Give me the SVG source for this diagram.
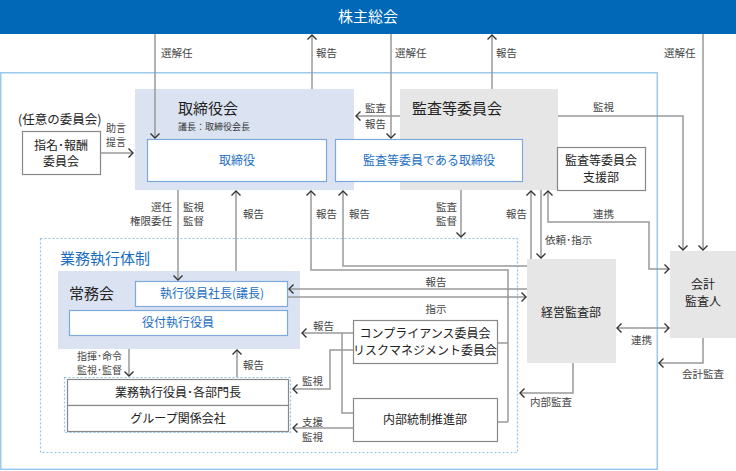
<svg xmlns="http://www.w3.org/2000/svg" width="736" height="471" viewBox="0 0 736 471">
<defs>
<marker id="ah" viewBox="0 0 10 10" refX="8.5" refY="5" markerWidth="10" markerHeight="10" markerUnits="userSpaceOnUse" orient="auto-start-reverse">
<path d="M4,0.5 L8.5,5 L4,9.5" fill="none" stroke="#333" stroke-width="1.4"/>
</marker>
</defs>
<style>
text{font-family:"Noto Sans CJK JP","Noto Sans",sans-serif;fill:#333}
.lbl{font-size:10.5px;fill:#444}
.sm{font-size:10px;fill:#444}
.h{font-size:15px;fill:#222}
.bt{font-size:12px;fill:#222}
.blue{font-size:12px;fill:#1b6ec2}
.c{text-anchor:middle}
.e{text-anchor:end}
.ln{fill:none;stroke:#999;stroke-width:1.5}
.ar{marker-end:url(#ah)}
.da{marker-start:url(#ah);marker-end:url(#ah)}
.wb{fill:#fff;stroke:#7ea9dc;stroke-width:1.2}
.gb{fill:#fff;stroke:#888;stroke-width:1.2}
.lb{fill:#dbe2f1}
.gr{fill:#e6e6e6}
.dot{fill:none;stroke:#8ec4ec;stroke-width:1.2;stroke-dasharray:2 2}
</style>

<g id="shareholders">
<rect x="0" y="0" width="736" height="34" fill="#0068b7"/>
<text x="368" y="22" class="c" style="font-size:15px;fill:#fff">株主総会</text>
</g>

<rect id="company" x="0.75" y="72.75" width="656.5" height="396.5" fill="none" stroke="#9ccaea" stroke-width="1.5"/>
<rect id="exec-frame" x="40.5" y="238.5" width="477" height="214" class="dot"/>
<text x="60" y="264" style="font-size:15px;fill:#1b6ec2">業務執行体制</text>

<g id="board">
<rect x="135" y="89" width="219" height="101" class="lb"/>
<text x="178" y="114" class="h">取締役会</text>
<text x="178" y="130" style="font-size:9px;fill:#333">議長：取締役会長</text>
</g>

<g id="audit-committee">
<rect x="400" y="89" width="158" height="101" class="gr"/>
<text x="412" y="114" class="h">監査等委員会</text>
</g>

<g id="directors">
<rect x="147.5" y="139.5" width="179" height="42" class="wb"/>
<text x="237" y="165" class="blue c">取締役</text>
</g>

<g id="audit-directors">
<rect x="335.5" y="139.5" width="187" height="42" class="wb"/>
<text x="429" y="165" class="blue c">監査等委員である取締役</text>
</g>

<g id="audit-support">
<rect x="557.5" y="147.5" width="88" height="43" class="gb"/>
<text x="601" y="165" class="bt c">監査等委員会</text>
<text x="601" y="182" class="bt c">支援部</text>
</g>

<g id="nomination">
<text x="18" y="124" style="font-size:12.5px;fill:#222">(任意の委員会)</text>
<rect x="22.5" y="131.5" width="78" height="43" class="gb"/>
<text x="61" y="150" class="bt c">指名･報酬</text>
<text x="61" y="166" class="bt c">委員会</text>
</g>

<g id="executive-committee">
<rect x="58" y="271" width="242" height="78" class="lb"/>
<text x="69" y="299" class="h">常務会</text>
</g>

<g id="president">
<rect x="135.5" y="281.5" width="152" height="25" class="wb"/>
<text x="212" y="298" class="blue c">執行役員社長(議長)</text>
</g>

<g id="senior-officers">
<rect x="69.5" y="310.5" width="218" height="25" class="wb"/>
<text x="178" y="327" class="blue c">役付執行役員</text>
</g>

<g id="business-units">
<rect x="64.5" y="377.5" width="226" height="55" class="dot"/>
<rect x="67.5" y="379.5" width="221" height="26" class="gb"/>
<rect x="67.5" y="405.5" width="221" height="26" class="gb"/>
<text x="178" y="397" class="bt c">業務執行役員･各部門長</text>
<text x="178" y="423" class="bt c">グループ関係会社</text>
</g>

<g id="compliance">
<rect x="353.5" y="320.5" width="144" height="43" class="gb"/>
<text x="425" y="338" class="bt c">コンプライアンス委員会</text>
<text x="425" y="355" class="bt c">リスクマネジメント委員会</text>
</g>

<g id="internal-control">
<rect x="353.5" y="398.5" width="144" height="43" class="gb"/>
<text x="425" y="424" class="bt c">内部統制推進部</text>
</g>

<g id="mgmt-audit">
<rect x="527" y="259" width="89" height="104" class="gr"/>
<text x="571" y="317" class="bt c">経営監査部</text>
</g>

<g id="accounting-auditor">
<rect x="670" y="251" width="66" height="87" class="gr"/>
<text x="703" y="289" class="bt c">会計</text>
<text x="703" y="306" class="bt c">監査人</text>
</g>

<g id="connectors">
<path class="ln ar" d="M155,34 V138"/>
<path class="ln ar" d="M312,89 V35"/>
<path class="ln ar" d="M391,34 V138"/>
<path class="ln ar" d="M492,89 V35"/>
<path class="ln ar" d="M703,34 V250"/>
<path class="ln ar" d="M558,116 H683 V250"/>
<path class="ln ar" d="M400,116 H356"/>
<path class="ln ar" d="M101,153 H133"/>
<path class="ln ar" d="M178,190 V280"/>
<path class="ln ar" d="M236,271 V191"/>
<path class="ln ar" d="M508,422 V270 H311 V191"/>
<path class="ln" d="M498,343 H508 M498,422 H508"/>
<path class="ln ar" d="M527,266 H343 V191"/>
<path class="ln ar" d="M461,190 V237"/>
<path class="ln ar" d="M531,259 V191"/>
<path class="ln ar" d="M541,190 V258"/>
<path class="ln da" d="M548,191 V222 H649 V269 H669"/>
<path class="ln ar" d="M527,289 H289"/>
<path class="ln ar" d="M288,297 H526"/>
<path class="ln ar" d="M353,333 H302"/>
<path class="ln" d="M342,333 V413 H353"/>
<path class="ln ar" d="M353,350 H330 V389 H293"/>
<path class="ln ar" d="M353,428 H293"/>
<path class="ln ar" d="M129,349 V376"/>
<path class="ln ar" d="M237,377 V350"/>
<path class="ln da" d="M617,328 H669"/>
<path class="ln ar" d="M573,363 V393 H520"/>
<path class="ln ar" d="M703,338 V363 H659"/>
</g>

<g id="labels">
<text x="161" y="57" class="lbl">選解任</text>
<text x="316" y="57" class="lbl">報告</text>
<text x="395" y="57" class="lbl">選解任</text>
<text x="496" y="57" class="lbl">報告</text>
<text x="664" y="57" class="lbl">選解任</text>
<text x="593" y="111" class="lbl">監視</text>
<text x="365" y="112" class="lbl">監査</text>
<text x="365" y="128" class="lbl">報告</text>
<text x="106" y="132" class="sm">助言</text>
<text x="106" y="146" class="sm">提言</text>
<text x="172" y="211" class="lbl e">選任</text>
<text x="172" y="225" class="lbl e">権限委任</text>
<text x="183" y="211" class="lbl">監視</text>
<text x="183" y="225" class="lbl">監督</text>
<text x="243" y="218" class="lbl">報告</text>
<text x="316" y="218" class="lbl">報告</text>
<text x="349" y="218" class="lbl">報告</text>
<text x="436" y="211" class="lbl">監査</text>
<text x="436" y="225" class="lbl">監督</text>
<text x="506" y="218" class="lbl">報告</text>
<text x="593" y="218" class="lbl">連携</text>
<text x="545" y="244" class="lbl">依頼･指示</text>
<text x="436" y="286" class="lbl c">報告</text>
<text x="436" y="313" class="lbl c">指示</text>
<text x="313" y="330" class="lbl">報告</text>
<text x="302" y="385" class="lbl">監視</text>
<text x="302" y="426" class="lbl">支援</text>
<text x="302" y="441" class="lbl">監視</text>
<text x="122" y="360" class="sm e">指揮･命令</text>
<text x="122" y="374" class="sm e">監視･監督</text>
<text x="243" y="369" class="lbl">報告</text>
<text x="631" y="344" class="lbl">連携</text>
<text x="530" y="406" class="lbl">内部監査</text>
<text x="682" y="378" class="lbl">会計監査</text>
</g>
</svg>
